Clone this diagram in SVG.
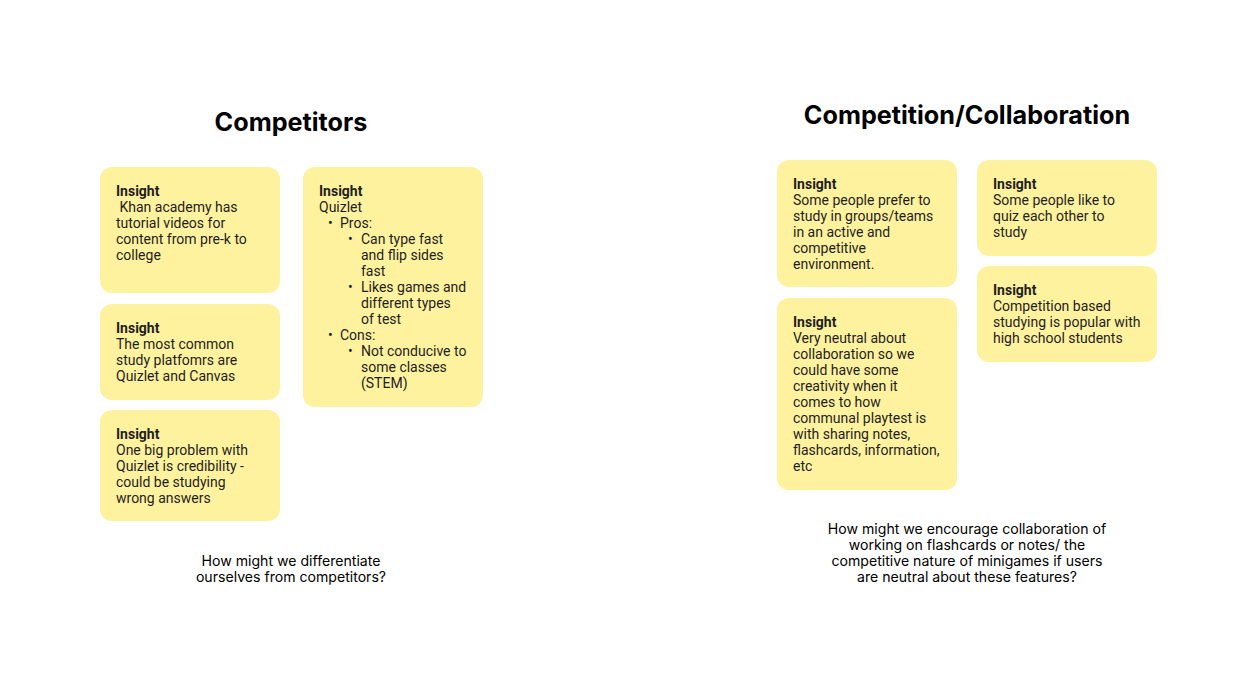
<svg xmlns="http://www.w3.org/2000/svg" width="1260" height="693" viewBox="0 0 1260 693">
<style>
.card{fill:#FFF29E;}
.t{font-family:Roboto,"Liberation Sans",sans-serif;font-size:14px;fill:#1e1e1e;}
.b{font-weight:bold;}
.h{font-family:Inter,"Liberation Sans",sans-serif;font-size:25.2px;font-weight:bold;fill:#000;text-anchor:middle;}
.q{font-family:Inter,"Liberation Sans",sans-serif;font-size:14.1px;fill:#000;text-anchor:middle;}
</style>
<rect width="1260" height="693" fill="#fff"/>
<text class="h" x="291" y="131">Competitors</text>
<text class="h" x="967" y="124">Competition/Collaboration</text>

<g id="card-khan">
<rect class="card" x="100" y="167" width="180" height="126" rx="12"/>
<text class="t"><tspan class="b" x="116" y="196">Insight</tspan><tspan x="116" y="212"> Khan academy has</tspan><tspan x="116" y="228">tutorial videos for</tspan><tspan x="116" y="244">content from pre-k to</tspan><tspan x="116" y="260">college</tspan></text>
</g>
<g id="card-common">
<rect class="card" x="100" y="304" width="180" height="96" rx="12"/>
<text class="t"><tspan class="b" x="116" y="333">Insight</tspan><tspan x="116" y="349">The most common</tspan><tspan x="116" y="365">study platfomrs are</tspan><tspan x="116" y="381">Quizlet and Canvas</tspan></text>
</g>
<g id="card-credibility">
<rect class="card" x="100" y="410" width="180" height="111" rx="12"/>
<text class="t"><tspan class="b" x="116" y="439">Insight</tspan><tspan x="116" y="455">One big problem with</tspan><tspan x="116" y="471">Quizlet is credibility -</tspan><tspan x="116" y="487">could be studying</tspan><tspan x="116" y="503">wrong answers</tspan></text>
</g>
<g id="card-quizlet">
<rect class="card" x="303" y="167" width="180" height="240" rx="12"/>
<text class="t"><tspan class="b" x="319" y="196">Insight</tspan><tspan x="319" y="212">Quizlet</tspan>
<tspan x="328" y="228">•</tspan><tspan x="340" y="228">Pros:</tspan>
<tspan x="348" y="244">•</tspan><tspan x="361" y="244">Can type fast</tspan><tspan x="361" y="260">and flip sides</tspan><tspan x="361" y="276">fast</tspan>
<tspan x="348" y="292">•</tspan><tspan x="361" y="292">Likes games and</tspan><tspan x="361" y="308">different types</tspan><tspan x="361" y="324">of test</tspan>
<tspan x="328" y="340">•</tspan><tspan x="340" y="340">Cons:</tspan>
<tspan x="348" y="356">•</tspan><tspan x="361" y="356">Not conducive to</tspan><tspan x="361" y="372">some classes</tspan><tspan x="361" y="388">(STEM)</tspan></text>
</g>

<g id="card-groups">
<rect class="card" x="777" y="160" width="180" height="127" rx="12"/>
<text class="t"><tspan class="b" x="793" y="189">Insight</tspan><tspan x="793" y="205">Some people prefer to</tspan><tspan x="793" y="221">study in groups/teams</tspan><tspan x="793" y="237">in an active and</tspan><tspan x="793" y="253">competitive</tspan><tspan x="793" y="269">environment.</tspan></text>
</g>
<g id="card-neutral">
<rect class="card" x="777" y="298" width="180" height="192" rx="12"/>
<text class="t"><tspan class="b" x="793" y="327">Insight</tspan><tspan x="793" y="343">Very neutral about</tspan><tspan x="793" y="359">collaboration so we</tspan><tspan x="793" y="375">could have some</tspan><tspan x="793" y="391">creativity when it</tspan><tspan x="793" y="407">comes to how</tspan><tspan x="793" y="423">communal playtest is</tspan><tspan x="793" y="439">with sharing notes,</tspan><tspan x="793" y="455">flashcards, information,</tspan><tspan x="793" y="471">etc</tspan></text>
</g>
<g id="card-quiz">
<rect class="card" x="977" y="160" width="180" height="96" rx="12"/>
<text class="t"><tspan class="b" x="993" y="189">Insight</tspan><tspan x="993" y="205">Some people like to</tspan><tspan x="993" y="221">quiz each other to</tspan><tspan x="993" y="237">study</tspan></text>
</g>
<g id="card-highschool">
<rect class="card" x="977" y="266" width="180" height="96" rx="12"/>
<text class="t"><tspan class="b" x="993" y="295">Insight</tspan><tspan x="993" y="311">Competition based</tspan><tspan x="993" y="327">studying is popular with</tspan><tspan x="993" y="343">high school students</tspan></text>
</g>

<g id="question-left">
<text class="q"><tspan x="291" y="566">How might we differentiate</tspan><tspan x="291" y="582">ourselves from competitors?</tspan></text>
</g>
<g id="question-right">
<text class="q"><tspan x="967" y="534">How might we encourage collaboration of</tspan><tspan x="967" y="550">working on flashcards or notes/ the</tspan><tspan x="967" y="566">competitive nature of minigames if users</tspan><tspan x="967" y="582">are neutral about these features?</tspan></text>
</g>
<g id="connectors"></g>
</svg>
